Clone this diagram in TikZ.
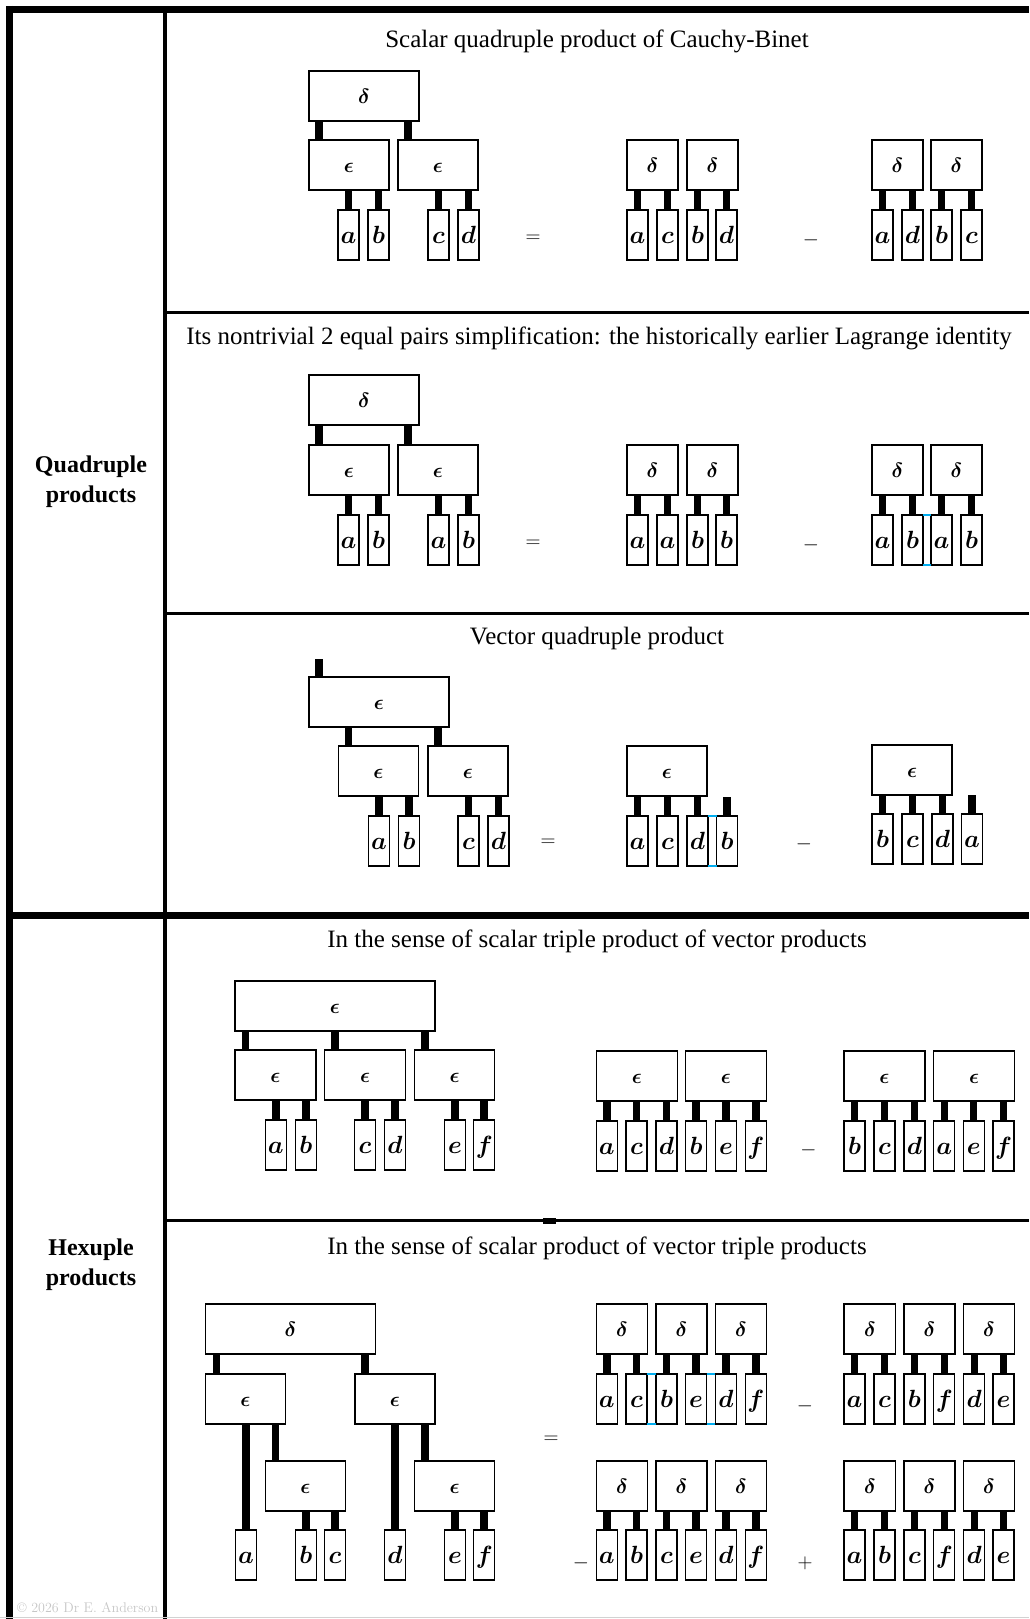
\documentclass[tikz,border=0pt]{standalone}
\usepackage{amsmath}
\usepackage{fontspec}
\newfontfamily\tnr{Liberation Serif}
\usetikzlibrary{calc}
\tikzset{
 tbox/.style={draw, line width=1.3pt, minimum height=50pt, inner sep=0pt, outer sep=0pt, anchor=north west, font=\fontsize{20.74}{22}\selectfont, text height=14pt, text depth=0pt},
 leaf/.style={draw, line width=1.3pt, minimum width=21pt, minimum height=50pt, inner sep=0pt, outer sep=0pt, anchor=north west, font=\fontsize{24.88}{25}\selectfont, text height=16pt, text depth=0pt},
 bar/.style={line width=7.5pt, line cap=butt},
 op/.style={font=\fontsize{20.74}{21}\selectfont, inner sep=0pt, yshift=-3pt},
 title/.style={font=\tnr\fontsize{25}{30}\selectfont, inner sep=0pt, yshift=-3pt},
 side/.style={font=\tnr\bfseries\fontsize{24}{30}\selectfont, align=center, inner sep=0pt, yshift=-3pt},
 frame/.style={line width=#1, line cap=butt},
 tick/.style={cyan, line width=1.2pt},
}
\newcommand\TBox[5]{\node[tbox,minimum width=#4] (#1) at (#2,#3) {$\boldsymbol{#5}$};}
\newcommand\Leaf[4]{\node[leaf] (#1) at (#2,#3) {$\boldsymbol{#4}$};}
\newcommand\LBar[2]{\draw[bar] (#2.north) -- (#2.north |- #1.south);}
\newcommand\CBar[3]{\coordinate (#2k) at ($(#2.north west)+(#3,0)$); \draw[bar] (#2k) -- (#2k |- #1.south);}
\newcommand\FLeg[2]{\coordinate (#1k) at ($(#1.north)+(0,-#2)$); \draw[bar] (#1.north) -- (#1k);}
\begin{document}
\begin{tikzpicture}[x=1pt,y=-1pt]
\useasboundingbox (0,0) rectangle (1029,1619);
% frame
\draw[frame=7pt] (6,9.5) -- (1029,9.5);
\draw[frame=7pt] (9.5,6) -- (9.5,1619);
\draw[frame=4pt] (165,13) -- (165,1619);
\draw[frame=3.5pt] (165,312.5) -- (1029,312.5);
\draw[frame=3.5pt] (165,613.5) -- (1029,613.5);
\draw[frame=7pt] (6,915.5) -- (1029,915.5);
\draw[frame=3.5pt] (165,1220.5) -- (1029,1220.5);
\draw[gray!35, line width=1pt] (0,1617.5) -- (1029,1617.5);
\fill (543,1218) rectangle (556,1223.5);
% side labels
\node[side] (quad) at (91,479) {Quadruple\\products};
\node[side] (hex) at (91,1262) {Hexuple\\products};
\node[anchor=base west, text=gray!45, font=\fontsize{14}{14}\selectfont, inner sep=0pt] (copy) at (17,1612) {\textcopyright{} 2026 Dr E. Anderson};
% titles
\node[title] (t1) at (597,38) {Scalar quadruple product of Cauchy-Binet};
\node[title] (t2) at (599,335) {Its nontrivial 2 equal pairs simplification: the historically earlier Lagrange identity};
\node[title] (t3) at (597,635) {Vector quadruple product};
\node[title] (t4) at (597,938) {In the sense of scalar triple product of vector products};
\node[title] (t5) at (597,1245) {In the sense of scalar product of vector triple products};

% ===== Row 1
\TBox{aD}{309}{71}{110}{\delta}
\TBox{aE1}{309}{140}{80}{\epsilon}
\TBox{aE2}{398}{140}{80}{\epsilon}
\Leaf{aa}{338}{210}{a}\Leaf{ab}{368}{210}{b}\Leaf{ac}{428}{210}{c}\Leaf{ad}{458}{210}{d}
\CBar{aD}{aE1}{10}\CBar{aD}{aE2}{10}
\LBar{aE1}{aa}\LBar{aE1}{ab}\LBar{aE2}{ac}\LBar{aE2}{ad}
\node[op] (aeq) at (533,236) {$=$};
\TBox{aP1}{627}{140}{51}{\delta}\TBox{aP2}{687}{140}{51}{\delta}
\Leaf{ap1}{627}{210}{a}\Leaf{ap2}{657}{210}{c}\Leaf{ap3}{687}{210}{b}\Leaf{ap4}{716}{210}{d}
\LBar{aP1}{ap1}\LBar{aP1}{ap2}\LBar{aP2}{ap3}\LBar{aP2}{ap4}
\node[op] (amin) at (811,237) {$-$};
\TBox{aQ1}{872}{140}{51}{\delta}\TBox{aQ2}{931}{140}{51}{\delta}
\Leaf{aq1}{872}{210}{a}\Leaf{aq2}{902}{210}{d}\Leaf{aq3}{931}{210}{b}\Leaf{aq4}{961}{210}{c}
\LBar{aQ1}{aq1}\LBar{aQ1}{aq2}\LBar{aQ2}{aq3}\LBar{aQ2}{aq4}

% ===== Row 2
\TBox{bD}{309}{375}{110}{\delta}
\TBox{bE1}{309}{445}{80}{\epsilon}
\TBox{bE2}{398}{445}{80}{\epsilon}
\Leaf{ba}{338}{515}{a}\Leaf{bb}{368}{515}{b}\Leaf{bc}{428}{515}{a}\Leaf{bd}{458}{515}{b}
\CBar{bD}{bE1}{10}\CBar{bD}{bE2}{10}
\LBar{bE1}{ba}\LBar{bE1}{bb}\LBar{bE2}{bc}\LBar{bE2}{bd}
\node[op] (beq) at (533,541) {$=$};
\TBox{bP1}{627}{445}{51}{\delta}\TBox{bP2}{687}{445}{51}{\delta}
\Leaf{bp1}{627}{515}{a}\Leaf{bp2}{657}{515}{a}\Leaf{bp3}{687}{515}{b}\Leaf{bp4}{716}{515}{b}
\LBar{bP1}{bp1}\LBar{bP1}{bp2}\LBar{bP2}{bp3}\LBar{bP2}{bp4}
\node[op] (bmin) at (811,542) {$-$};
\TBox{bQ1}{872}{445}{51}{\delta}\TBox{bQ2}{931}{445}{51}{\delta}
\Leaf{bq1}{872}{515}{a}\Leaf{bq2}{902}{515}{b}\Leaf{bq3}{931}{515}{a}\Leaf{bq4}{961}{515}{b}
\LBar{bQ1}{bq1}\LBar{bQ1}{bq2}\LBar{bQ2}{bq3}\LBar{bQ2}{bq4}
\draw[tick] (bq2.north east) -- (bq3.north west);
\draw[tick] (bq2.south east) -- (bq3.south west);

% ===== Row 3
\TBox{cE}{309}{677}{140}{\epsilon}
\coordinate (cEk) at ($(cE.north west)+(10,0)$);
\coordinate (cEtop) at ($(cEk)+(0,-18)$);
\draw[bar] (cEk) -- (cEtop);
\TBox{cE1}{338.5}{746}{80}{\epsilon}
\TBox{cE2}{428}{746}{80}{\epsilon}
\CBar{cE}{cE1}{10}\CBar{cE}{cE2}{10}
\Leaf{ca}{368.5}{816}{a}\Leaf{cb}{398.5}{816}{b}\Leaf{cc}{458}{816}{c}\Leaf{cd}{488}{816}{d}
\LBar{cE1}{ca}\LBar{cE1}{cb}\LBar{cE2}{cc}\LBar{cE2}{cd}
\node[op] (ceq) at (548,840) {$=$};
\TBox{cP}{627}{746}{80}{\epsilon}
\Leaf{cp1}{627}{816}{a}\Leaf{cp2}{657}{816}{c}\Leaf{cp3}{687}{816}{d}\Leaf{cp4}{716.5}{816}{b}
\LBar{cP}{cp1}\LBar{cP}{cp2}\LBar{cP}{cp3}\FLeg{cp4}{19}
\draw[tick] (cp3.north east) -- (cp4.north west);
\draw[tick] (cp3.south east) -- (cp4.south west);
\node[op] (cmin) at (804,841) {$-$};
\TBox{cQ}{872}{745}{80}{\epsilon}
\Leaf{cq1}{872}{814}{b}\Leaf{cq2}{902}{814}{c}\Leaf{cq3}{932}{814}{d}\Leaf{cq4}{961.5}{814}{a}
\LBar{cQ}{cq1}\LBar{cQ}{cq2}\LBar{cQ}{cq3}\FLeg{cq4}{19}

% ===== Row 4
\TBox{dE}{235}{981}{200}{\epsilon}
\TBox{dE1}{235}{1050}{81}{\epsilon}
\TBox{dE2}{324.6}{1050}{81}{\epsilon}
\TBox{dE3}{414.4}{1050}{80.4}{\epsilon}
\CBar{dE}{dE1}{10.5}\CBar{dE}{dE2}{10.5}\CBar{dE}{dE3}{10.5}
\Leaf{da}{265.3}{1120}{a}\Leaf{db}{295.3}{1120}{b}\Leaf{dc}{354.6}{1120}{c}\Leaf{dd}{384.5}{1120}{d}\Leaf{de}{444.4}{1120}{e}\Leaf{df}{473.7}{1120}{f}
\LBar{dE1}{da}\LBar{dE1}{db}\LBar{dE2}{dc}\LBar{dE2}{dd}\LBar{dE3}{de}\LBar{dE3}{df}
\TBox{dP1}{596.3}{1051}{81}{\epsilon}\TBox{dP2}{685.5}{1051}{81}{\epsilon}
\Leaf{dp1}{596.3}{1121}{a}\Leaf{dp2}{626.1}{1121}{c}\Leaf{dp3}{656}{1121}{d}\Leaf{dp4}{685.5}{1121}{b}\Leaf{dp5}{715.4}{1121}{e}\Leaf{dp6}{745.3}{1121}{f}
\LBar{dP1}{dp1}\LBar{dP1}{dp2}\LBar{dP1}{dp3}\LBar{dP2}{dp4}\LBar{dP2}{dp5}\LBar{dP2}{dp6}
\node[op] (dmin) at (808.5,1147) {$-$};
\TBox{dQ1}{844}{1051}{81}{\epsilon}\TBox{dQ2}{933.8}{1051}{80.4}{\epsilon}
\Leaf{dq1}{844}{1121}{b}\Leaf{dq2}{874}{1121}{c}\Leaf{dq3}{903.9}{1121}{d}\Leaf{dq4}{933.8}{1121}{a}\Leaf{dq5}{963.2}{1121}{e}\Leaf{dq6}{993.1}{1121}{f}
\LBar{dQ1}{dq1}\LBar{dQ1}{dq2}\LBar{dQ1}{dq3}\LBar{dQ2}{dq4}\LBar{dQ2}{dq5}\LBar{dQ2}{dq6}

% ===== Row 5
\TBox{eD}{205.5}{1304}{170}{\delta}
\TBox{eE1}{205.5}{1374}{80}{\epsilon}
\TBox{eE2}{355}{1374}{80}{\epsilon}
\CBar{eD}{eE1}{11}\CBar{eD}{eE2}{10}
\TBox{eF1}{265.3}{1461}{80.4}{\epsilon}
\TBox{eF2}{414.4}{1461}{80.4}{\epsilon}
\CBar{eE1}{eF1}{10.3}\CBar{eE2}{eF2}{10.6}
\Leaf{ea}{235.4}{1530}{a}\Leaf{eb}{295.3}{1530}{b}\Leaf{ec}{324.6}{1530}{c}\Leaf{ed}{384.5}{1530}{d}\Leaf{ee}{444.4}{1530}{e}\Leaf{ef}{473.7}{1530}{f}
\LBar{eE1}{ea}\LBar{eE2}{ed}
\LBar{eF1}{eb}\LBar{eF1}{ec}\LBar{eF2}{ee}\LBar{eF2}{ef}
\node[op] (eeq) at (551,1437) {$=$};
% top-left term
\TBox{eP1}{596.3}{1304}{51.5}{\delta}\TBox{eP2}{656}{1304}{51}{\delta}\TBox{eP3}{715.4}{1304}{51}{\delta}
\Leaf{ep1}{596.3}{1374}{a}\Leaf{ep2}{626.1}{1374}{c}\Leaf{ep3}{656}{1374}{b}\Leaf{ep4}{685.5}{1374}{e}\Leaf{ep5}{715.4}{1374}{d}\Leaf{ep6}{745.3}{1374}{f}
\LBar{eP1}{ep1}\LBar{eP1}{ep2}\LBar{eP2}{ep3}\LBar{eP2}{ep4}\LBar{eP3}{ep5}\LBar{eP3}{ep6}
\draw[tick] (ep2.north east) -- (ep3.north west);
\draw[tick] (ep2.south east) -- (ep3.south west);
\draw[tick] (ep4.north east) -- (ep5.north west);
\draw[tick] (ep4.south east) -- (ep5.south west);
\node[op] (emin1) at (805,1403) {$-$};
% top-right term
\TBox{eQ1}{844}{1304}{51.6}{\delta}\TBox{eQ2}{903.9}{1304}{51}{\delta}\TBox{eQ3}{963.8}{1304}{50.4}{\delta}
\Leaf{eq1}{844}{1374}{a}\Leaf{eq2}{874}{1374}{c}\Leaf{eq3}{903.9}{1374}{b}\Leaf{eq4}{933.8}{1374}{f}\Leaf{eq5}{963.8}{1374}{d}\Leaf{eq6}{993.1}{1374}{e}
\LBar{eQ1}{eq1}\LBar{eQ1}{eq2}\LBar{eQ2}{eq3}\LBar{eQ2}{eq4}\LBar{eQ3}{eq5}\LBar{eQ3}{eq6}
% bottom-left term
\node[op] (emin2) at (581,1560) {$-$};
\TBox{eR1}{596.3}{1461}{51.5}{\delta}\TBox{eR2}{656}{1461}{51}{\delta}\TBox{eR3}{715.4}{1461}{51}{\delta}
\Leaf{er1}{596.3}{1530}{a}\Leaf{er2}{626.1}{1530}{b}\Leaf{er3}{656}{1530}{c}\Leaf{er4}{685.5}{1530}{e}\Leaf{er5}{715.4}{1530}{d}\Leaf{er6}{745.3}{1530}{f}
\LBar{eR1}{er1}\LBar{eR1}{er2}\LBar{eR2}{er3}\LBar{eR2}{er4}\LBar{eR3}{er5}\LBar{eR3}{er6}
% bottom-right term
\node[op] (eplus) at (805,1560) {$+$};
\TBox{eS1}{844}{1461}{51.6}{\delta}\TBox{eS2}{903.9}{1461}{51}{\delta}\TBox{eS3}{963.8}{1461}{50.4}{\delta}
\Leaf{es1}{844}{1530}{a}\Leaf{es2}{874}{1530}{b}\Leaf{es3}{903.9}{1530}{c}\Leaf{es4}{933.8}{1530}{f}\Leaf{es5}{963.8}{1530}{d}\Leaf{es6}{993.1}{1530}{e}
\LBar{eS1}{es1}\LBar{eS1}{es2}\LBar{eS2}{es3}\LBar{eS2}{es4}\LBar{eS3}{es5}\LBar{eS3}{es6}
\end{tikzpicture}
\end{document}
